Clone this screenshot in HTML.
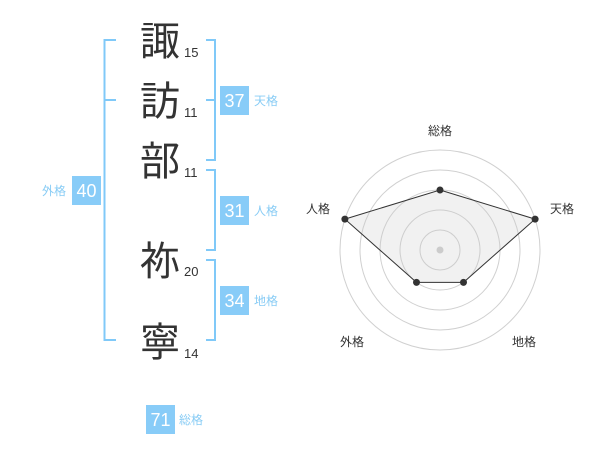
<!DOCTYPE html>
<html><head><meta charset="utf-8">
<style>
html,body{margin:0;padding:0;background:#fff;}
body{width:600px;height:470px;overflow:hidden;}
svg{display:block;}
.k{font-family:"Liberation Sans","Noto Sans CJK JP",sans-serif;font-size:40px;fill:#333;}
.n{font-family:"Liberation Sans",sans-serif;font-size:13px;fill:#333;}
.b{font-family:"Liberation Sans",sans-serif;font-size:18px;fill:#fff;}
.l{font-family:"Liberation Sans","Noto Sans CJK JP",sans-serif;font-size:12px;fill:#88ccf5;}
.r{font-family:"Liberation Sans","Noto Sans CJK JP",sans-serif;font-size:12px;fill:#333;}
</style></head>
<body>
<svg width="600" height="470" viewBox="0 0 600 470" xmlns="http://www.w3.org/2000/svg">
<!-- brackets -->
<g stroke="#80c9f8" stroke-width="2" fill="none">
<polyline points="116,40 104.5,40 104.5,340 116,340"/>
<line x1="104.5" y1="100" x2="116" y2="100"/>
<polyline points="206,40 215,40 215,160 206,160"/>
<line x1="206" y1="100" x2="215" y2="100"/>
<polyline points="206,170 215,170 215,250 206,250"/>
<polyline points="206,260 215,260 215,340 206,340"/>
</g>
<!-- kanji -->
<text class="k" x="160" y="55" text-anchor="middle">諏</text>
<text class="k" x="160" y="115" text-anchor="middle">訪</text>
<text class="k" x="160" y="175" text-anchor="middle">部</text>
<text class="k" x="160" y="275" text-anchor="middle">祢</text>
<text class="k" x="160" y="356" text-anchor="middle">寧</text>
<text class="n" x="184" y="57">15</text>
<text class="n" x="184" y="117">11</text>
<text class="n" x="184" y="177">11</text>
<text class="n" x="184" y="276">20</text>
<text class="n" x="184" y="358">14</text>
<!-- badges -->
<g fill="#88ccf8">
<rect x="220" y="86" width="29" height="29"/>
<rect x="220" y="196" width="29" height="29"/>
<rect x="220" y="286" width="29" height="29"/>
<rect x="72" y="176" width="29" height="29"/>
<rect x="146" y="405" width="29" height="29"/>
</g>
<text class="b" x="234.5" y="107" text-anchor="middle">37</text>
<text class="b" x="234.5" y="217" text-anchor="middle">31</text>
<text class="b" x="234.5" y="307" text-anchor="middle">34</text>
<text class="b" x="86.5" y="197" text-anchor="middle">40</text>
<text class="b" x="160.5" y="426" text-anchor="middle">71</text>
<text class="l" x="254" y="105">天格</text>
<text class="l" x="254" y="215">人格</text>
<text class="l" x="254" y="305">地格</text>
<text class="l" x="66" y="195" text-anchor="end">外格</text>
<text class="l" x="179" y="424">総格</text>
<!-- radar -->
<g fill="none" stroke="#d0d0d0" stroke-width="1">
<circle cx="440" cy="250" r="20"/>
<circle cx="440" cy="250" r="40"/>
<circle cx="440" cy="250" r="60"/>
<circle cx="440" cy="250" r="80"/>
<circle cx="440" cy="250" r="100"/>
</g>
<polygon points="440,190 535.1,219.1 463.5,282.4 416.5,282.4 344.9,219.1" fill="rgba(200,200,200,0.25)" stroke="#333" stroke-width="1"/>
<circle cx="440" cy="250" r="3.5" fill="#cccccc"/>
<g fill="#333">
<circle cx="440" cy="190" r="3.5"/>
<circle cx="535.1" cy="219.1" r="3.5"/>
<circle cx="463.5" cy="282.4" r="3.5"/>
<circle cx="416.5" cy="282.4" r="3.5"/>
<circle cx="344.9" cy="219.1" r="3.5"/>
</g>
<text class="r" x="440" y="135" text-anchor="middle">総格</text>
<text class="r" x="562" y="213" text-anchor="middle">天格</text>
<text class="r" x="524" y="346" text-anchor="middle">地格</text>
<text class="r" x="352" y="346" text-anchor="middle">外格</text>
<text class="r" x="318" y="213" text-anchor="middle">人格</text>
</svg>
</body></html>
